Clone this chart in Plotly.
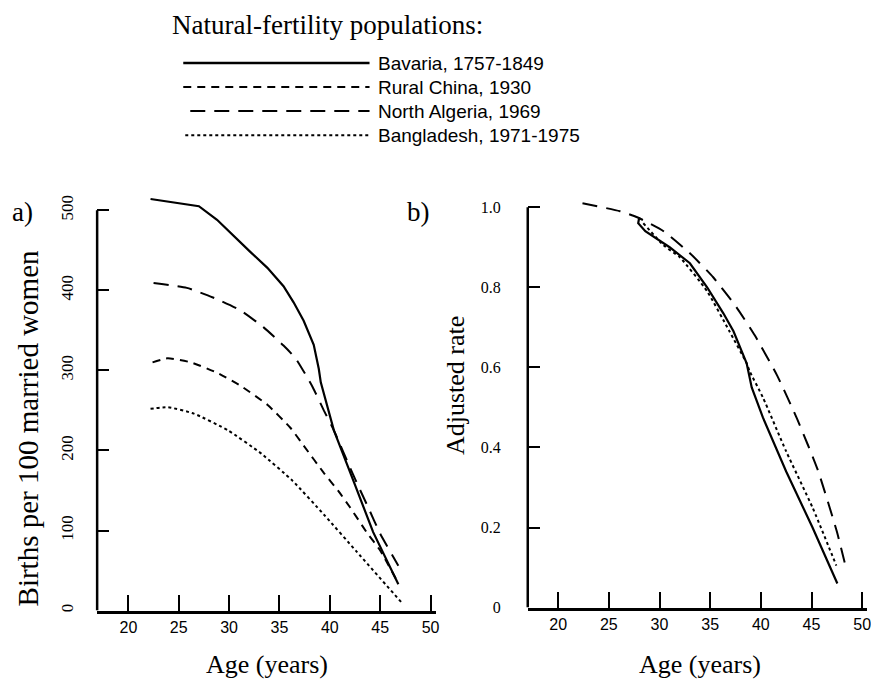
import plotly.graph_objects as go

# ---------------- data ----------------
# Panel a) births per 100 married women
bav_age_a = [22.2, 27.0, 28.8, 30.4, 32.1, 33.8, 35.4, 36.4, 37.4, 38.4, 38.9, 39.1, 40.4, 42.4, 44.3, 46.8]
bav_val_a = [514, 505, 488, 468, 448, 428, 405, 385, 362, 332, 302, 285, 225, 160, 98, 33]

chn_age_a = [22.4, 23.9, 26.2, 28.8, 31.1, 33.8, 36.1, 37.4, 39.4, 40.8, 42.0, 43.7, 45.0, 46.8]
chn_val_a = [310, 315, 310, 297, 281, 257, 228, 206, 172, 150, 129, 97, 75, 34]

alg_age_a = [22.5, 25.8, 28.4, 31.1, 33.4, 35.4, 36.6, 38.3, 39.4, 40.4, 42.3, 43.8, 45.0, 46.8]
alg_val_a = [409, 403, 391, 375, 354, 331, 315, 279, 250, 225, 170, 129, 96, 56]

bgd_age_a = [22.2, 23.9, 26.5, 29.9, 33.2, 36.3, 39.4, 42.7, 47.2]
bgd_val_a = [252, 254, 246, 225, 196, 162, 120, 73, 9]

# Panel b) adjusted rate
bav_age_b = [28.0, 27.9, 28.6, 31.0, 33.0, 34.7, 36.3, 37.3, 38.6, 39.1, 40.2, 42.5, 45.1, 47.55]
bav_val_b = [0.975, 0.96, 0.94, 0.90, 0.86, 0.80, 0.735, 0.69, 0.61, 0.55, 0.475, 0.34, 0.20, 0.06]

alg_age_b = [22.4, 26.1, 27.8, 30.4, 33.0, 35.3, 37.6, 39.4, 41.6, 43.6, 45.6, 47.5, 48.3]
alg_val_b = [1.01, 0.99, 0.975, 0.94, 0.885, 0.825, 0.75, 0.68, 0.58, 0.47, 0.345, 0.19, 0.11]

bgd_age_b = [28.4, 30.4, 32.0, 34.7, 36.9, 38.6, 38.9, 40.2, 42.5, 45.1, 47.45]
bgd_val_b = [0.96, 0.905, 0.875, 0.79, 0.69, 0.61, 0.59, 0.525, 0.39, 0.25, 0.105]

x_ticks = [20, 25, 30, 35, 40, 45, 50]
ya_ticks = [0, 100, 200, 300, 400, 500]
yb_ticks = [0, 0.2, 0.4, 0.6, 0.8, 1.0]
yb_ticktext = ["0", "0.2", "0.4", "0.6", "0.8", "1.0"]

series_names = ["Bavaria, 1757-1849", "Rural China, 1930", "North Algeria, 1969", "Bangladesh, 1971-1975"]
series_dash = ["solid", "8px,6px", "15px,9px", "3px,3px"]

title_text = "Natural-fertility populations:"

# ---------------- figure ----------------
SERIF = "Liberation Serif"
SANS = "Liberation Sans"
BLACK = "#000000"

fig = go.Figure()

def add(x, y, dash, xa, ya, w=2, spline=True):
    line = dict(color=BLACK, width=w, dash=dash)
    if spline:
        line.update(shape="spline", smoothing=0.5)
    fig.add_trace(go.Scatter(x=x, y=y, mode="lines", xaxis=xa, yaxis=ya, line=line,
                             showlegend=False, hoverinfo="skip"))

add(bav_age_a, bav_val_a, series_dash[0], "x", "y", 2.2, spline=False)
add(chn_age_a, chn_val_a, series_dash[1], "x", "y")
add(alg_age_a, alg_val_a, series_dash[2], "x", "y")
add(bgd_age_a, bgd_val_a, series_dash[3], "x", "y")

add(bav_age_b, bav_val_b, series_dash[0], "x2", "y2", 2.2, spline=False)
add(alg_age_b, alg_val_b, series_dash[2], "x2", "y2")
add(bgd_age_b, bgd_val_b, series_dash[3], "x2", "y2")

# the photographed page comes out slightly shrunk; compensate so positions land where intended
SX, SY = 0.994, 0.986
W, H = 876, 690
def px(v):
    return (v / SX) / W
def py(v):
    return 1 - (v / SY) / H

xaxis_common = dict(
    tickvals=x_ticks, ticks="inside", ticklen=16, tickwidth=1.5, tickcolor=BLACK,
    showline=True, linecolor=BLACK, linewidth=2.5, showgrid=False, zeroline=False,
    ticklabeloverflow="allow",
    tickfont=dict(family=SANS, size=16, color=BLACK),
)

fig.update_layout(
    width=W, height=H,
    margin=dict(l=0, r=0, t=0, b=0),
    paper_bgcolor="white", plot_bgcolor="white",
    xaxis=dict(domain=[px(97), px(435)], range=[16.9, 50.5], anchor="y", **xaxis_common),
    yaxis=dict(domain=[py(610), py(190)], range=[0, 525], anchor="x",
               tickvals=ya_ticks, ticktext=[str(v) for v in ya_ticks],
               ticks="inside", ticklen=12, tickwidth=2, tickcolor=BLACK,
               tickangle=-90, ticklabelstandoff=20,
               showline=False, showgrid=False, zeroline=False,
               tickfont=dict(family=SERIF, size=17, color=BLACK)),
    xaxis2=dict(domain=[px(527), px(866)], range=[17.0, 50.5], anchor="y2", **xaxis_common),
    yaxis2=dict(domain=[py(607), py(191)], range=[0, 1.04], anchor="x2",
                tickvals=yb_ticks, ticktext=yb_ticktext,
                ticks="inside", ticklen=12, tickwidth=2, tickcolor=BLACK,
                ticklabelstandoff=26,
                showline=False, showgrid=False, zeroline=False,
                tickfont=dict(family=SERIF, size=16, color=BLACK)),
)

shapes = []
# y-axis lines ending at the top tick
shapes.append(dict(type="line", xref="x domain", yref="y", x0=0, x1=0, y0=0, y1=500,
                   line=dict(color=BLACK, width=2.5)))
shapes.append(dict(type="line", xref="x2 domain", yref="y2", x0=0, x1=0, y0=0, y1=1.0,
                   line=dict(color=BLACK, width=2.5)))

# legend key lines
leg_rows = [63, 87, 111, 135]
leg_x0 = [183, 183, 190, 185]
for i, name in enumerate(series_names):
    shapes.append(dict(type="line", xref="paper", yref="paper",
                       x0=px(leg_x0[i]), x1=px(369), y0=py(leg_rows[i]), y1=py(leg_rows[i]),
                       line=dict(color=BLACK, width=2.5 if i == 0 else 2, dash=series_dash[i])))

annotations = []
annotations.append(dict(text=title_text, xref="paper", yref="paper", x=px(170), y=py(25),
                        xanchor="left", yanchor="middle", showarrow=False,
                        font=dict(family=SERIF, size=27, color=BLACK)))
for i, name in enumerate(series_names):
    annotations.append(dict(text=name, xref="paper", yref="paper", x=px(375), y=py(leg_rows[i]),
                            xanchor="left", yanchor="middle", showarrow=False,
                            font=dict(family=SANS, size=19, color=BLACK)))

annotations.append(dict(text="a)", xref="paper", yref="paper", x=px(22), y=py(212),
                        xanchor="center", yanchor="middle", showarrow=False,
                        font=dict(family=SERIF, size=27, color=BLACK)))
annotations.append(dict(text="b)", xref="paper", yref="paper", x=px(418), y=py(212),
                        xanchor="center", yanchor="middle", showarrow=False,
                        font=dict(family=SERIF, size=27, color=BLACK)))

annotations.append(dict(text="Age (years)", xref="paper", yref="paper", x=px(267), y=py(664),
                        xanchor="center", yanchor="middle", showarrow=False,
                        font=dict(family=SERIF, size=26, color=BLACK)))
annotations.append(dict(text="Age (years)", xref="paper", yref="paper", x=px(699), y=py(664),
                        xanchor="center", yanchor="middle", showarrow=False,
                        font=dict(family=SERIF, size=26, color=BLACK)))

annotations.append(dict(text="Births per 100 married women", xref="paper", yref="paper",
                        x=px(28), y=py(428), textangle=-90,
                        xanchor="center", yanchor="middle", showarrow=False,
                        font=dict(family=SERIF, size=29, color=BLACK)))
annotations.append(dict(text="Adjusted rate", xref="paper", yref="paper",
                        x=px(455), y=py(385), textangle=-90,
                        xanchor="center", yanchor="middle", showarrow=False,
                        font=dict(family=SERIF, size=26, color=BLACK)))

fig.update_layout(shapes=shapes, annotations=annotations)

# remove the browser's default 8px page margin so the figure sits at (0, 0)
fig.write_html("out.html", config={"displayModeBar": False},
               post_script="document.body.style.margin='0';")
